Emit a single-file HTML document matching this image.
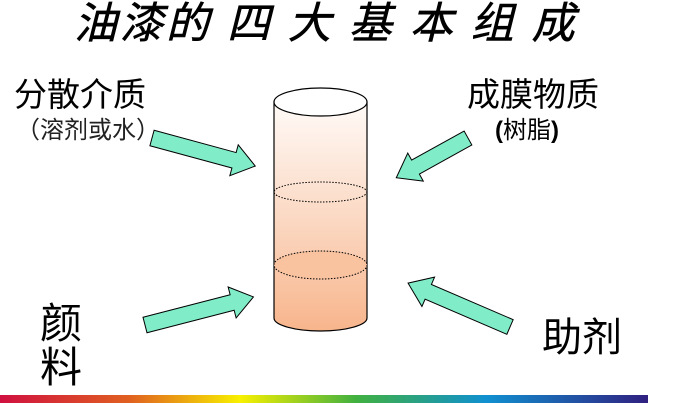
<!DOCTYPE html>
<html><head><meta charset="utf-8"><style>
html,body{margin:0;padding:0;background:#fff;}
body{width:675px;height:403px;position:relative;overflow:hidden;font-family:"Liberation Sans","Noto Sans CJK SC",sans-serif;}
.t{position:absolute;white-space:nowrap;color:#000;line-height:1;}
</style></head><body>
<svg width="675" height="403" style="position:absolute;left:0;top:0">
<defs>
<linearGradient id="g" x1="0" y1="0" x2="0" y2="1">
<stop offset="0" stop-color="#fffaf7"/><stop offset="0.5" stop-color="#fbd9c4"/><stop offset="1" stop-color="#f8b58c"/>
</linearGradient>
<linearGradient id="r" x1="0" y1="0" x2="1" y2="0">
<stop offset="0" stop-color="#d01040"/><stop offset="0.2" stop-color="#e06020"/><stop offset="0.37" stop-color="#f8f000"/><stop offset="0.55" stop-color="#40b040"/><stop offset="0.75" stop-color="#1090d0"/><stop offset="1" stop-color="#302080"/>
</linearGradient>
</defs>
<path d="M274,102 L274,318 A46.5,13 0 0 0 367,318 L367,102 Z" fill="url(#g)" stroke="#000" stroke-width="1.2"/>
<ellipse cx="320.5" cy="102" rx="46.5" ry="14" fill="#fff" stroke="#000" stroke-width="1.2"/>
<ellipse cx="320.5" cy="192" rx="46.5" ry="10" fill="none" stroke="#000" stroke-width="1" stroke-dasharray="1.5,1.5"/>
<ellipse cx="320.5" cy="265" rx="46.5" ry="14" fill="#f9c3a0" stroke="#000" stroke-width="1" stroke-dasharray="1.5,1.5"/>
<g fill="#80ecc8" stroke="#000" stroke-width="1">
<polygon transform="translate(152,138) rotate(15.2)" points="0,-8 85,-8 85,-16 107,0 85,16 85,8 0,8"/>
<polygon transform="translate(468,138) rotate(151)" points="0,-8 60,-8 60,-16 82,0 60,16 60,8 0,8"/>
<polygon transform="translate(145,325) rotate(-14.5)" points="0,-8 90,-8 90,-16 112,0 90,16 90,8 0,8"/>
<polygon transform="translate(510,327) rotate(203.3)" points="0,-8 89,-8 89,-16 111,0 89,16 89,8 0,8"/>
</g>
<rect x="0" y="395" width="648" height="8" fill="url(#r)"/>
</svg>
<div class="t" style="left:74px;top:3px;font-size:43px;font-style:italic;letter-spacing:3px;-webkit-text-stroke:0.6px #000;">油漆的 四 大 基 本 组 成</div>
<div class="t" style="left:14px;top:78px;font-size:33px;">分散介质</div>
<div class="t" style="left:16px;top:119px;font-size:24px;color:#222;">（溶剂或水）</div>
<div class="t" style="left:467px;top:78px;font-size:33px;">成膜物质</div>
<div class="t" style="left:495px;top:119px;font-size:24px;"><b>(</b>树脂<b>)</b></div>
<div class="t" style="left:40px;top:302px;font-size:42px;line-height:44px;">颜<br>料</div>
<div class="t" style="left:542px;top:318px;font-size:40px;">助剂</div>
</body></html>
